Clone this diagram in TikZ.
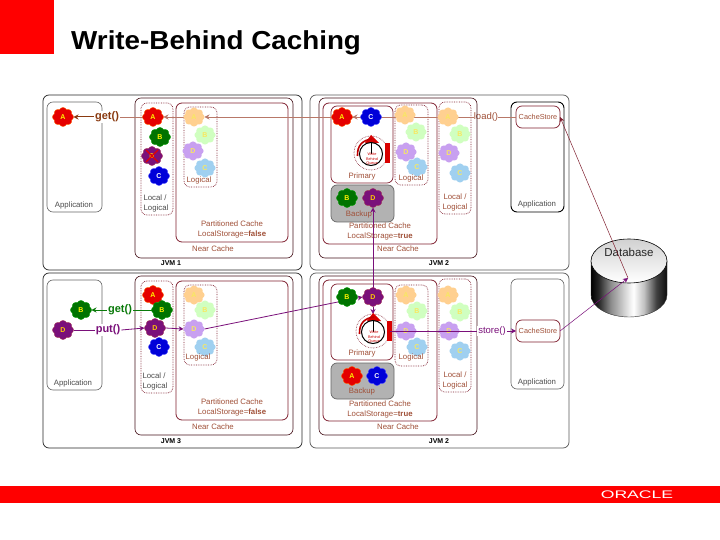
\documentclass[tikz,border=0pt]{standalone}
\usepackage{fontspec}
\usepackage{graphicx}
\setmainfont{Liberation Sans}
\usetikzlibrary{arrows.meta,shapes.symbols,shapes.geometric}
\definecolor{ored}{HTML}{FF0000}
\definecolor{dred}{HTML}{802030}
\definecolor{lbrown}{HTML}{A05038}
\definecolor{loadc}{HTML}{B87868}
\definecolor{getc}{HTML}{8A3A10}
\definecolor{greenc}{HTML}{0A7A0A}
\definecolor{purp}{HTML}{7A107A}
\definecolor{pa}{HTML}{FFD090}
\definecolor{pb}{HTML}{D0FFC0}
\definecolor{pd}{HTML}{C8A0F0}
\definecolor{pc}{HTML}{A0D0F0}
\definecolor{pt}{HTML}{F8E860}
\pgfdeclarehorizontalshading{cylshade}{100bp}{color(0bp)=(black);color(25bp)=(black);
  color(30bp)=(black!85);color(38bp)=(black!45);color(50bp)=(black!8);color(53bp)=(white);color(60bp)=(black!25);color(68bp)=(black!75);color(75bp)=(black!95);color(100bp)=(black)}
\pgfdeclarelayer{bg}
\pgfdeclarelayer{mid}
\pgfsetlayers{bg,mid,main}
\tikzset{
  x=1pt,y=-1pt,
  boxbase/.style={draw,rounded corners=6pt,inner sep=0pt,outer sep=0pt,anchor=north west},
  jvm/.style={boxbase,draw=black!85,line width=.7pt},
  jvmr/.style={boxbase,draw=black!65,line width=.7pt},
  near/.style={boxbase,draw=black!45!dred,line width=.6pt},
  part/.style={boxbase,draw=dred,line width=.8pt},
  prim/.style={boxbase,draw=dred,line width=.7pt},
  backupbox/.style={boxbase,draw=black!60,fill=black!30,line width=.7pt},
  logbox/.style={boxbase,draw=dred,densely dotted,line width=.7pt},
  appg/.style={boxbase,draw=black!60,line width=.6pt},
  appk/.style={boxbase,draw=black,line width=.9pt},
  csbox/.style={boxbase,draw=dred,line width=.7pt},
  lbl/.style={inner sep=0pt,font=\fontsize{7.8}{8}\selectfont,text=black!70},
  blbl/.style={inner sep=0pt,font=\fontsize{7.8}{8}\selectfont,text=lbrown},
  cslbl/.style={inner sep=0pt,font=\fontsize{7.3}{8}\selectfont,text=lbrown},
  jlbl/.style={inner sep=0pt,font=\bfseries\fontsize{7}{8}\selectfont,text=black},
  blob/.style={cloud,cloud puffs=8,cloud puff arc=130,aspect=1.1,inner sep=0pt,outer sep=0pt,
    minimum width=21pt,minimum height=19pt,font=\bfseries\fontsize{7}{7}\selectfont,text=yellow},
  bA/.style={blob,fill=red!90!black,draw=orange!70!red,line width=.4pt},
  bB/.style={blob,fill=green!45!black,draw=green!60!black,line width=.4pt},
  bD/.style={blob,fill=purp,draw=purp!70!orange,line width=.4pt,text=orange!40!yellow},
  bC/.style={blob,fill=blue!85!black,draw=blue!70,line width=.4pt,text=white},
  fA/.style={blob,fill=pa,text=pt},
  fB/.style={blob,fill=pb,text=pt},
  fD/.style={blob,fill=pd,text=pt},
  fC/.style={blob,fill=pc,text=pt},
  tip/.style={-{Stealth[length=5pt,width=5pt]}},
  loadl/.style={draw=loadc,line width=.6pt},
  getl/.style={draw=getc,line width=1pt},
  greenl/.style={draw=greenc,line width=1pt},
  purl/.style={draw=purp,line width=.8pt},
  oplbl/.style={inner sep=1pt,fill=white,font=\bfseries\fontsize{11}{11}\selectfont},
  qtxt/.style={inner sep=0pt,text=red!80!black,font=\fontsize{3.8}{4.4}\selectfont,align=center},
}
\newcommand\bx[6]{\pgfmathsetmacro\bxw{#5-#3}\pgfmathsetmacro\bxh{#6-#4}%
  \node[#1,minimum width=\bxw pt,minimum height=\bxh pt] (#2) at (#3,#4) {};}
\newcommand\wbq[3]{%
  \node[circle,draw=dred,densely dotted,fill=white,line width=.6pt,minimum size=34pt,inner sep=0pt,outer sep=0pt] (#1) at (#2,#3) {};
  \fill[red!85!black] (#2-6,#3-10) -- (#2,#3-18) -- (#2+8,#3-10) -- cycle;
  \fill[red!85!black] (#2+14,#3-10) rectangle (#2+19,#3+10);
  \draw[red!75!black,line width=1.6pt] (#2-13.5,#3+3) .. controls (#2-14,#3-8) and (#2-8,#3-13) .. (#2+1,#3-14);
  \node[circle,draw=black,line width=1pt,fill=white,minimum size=23pt,inner sep=0pt] (#1in) at (#2,#3+1) {};
  \draw[black,line width=.4pt] (#1in.center) -- (#1in.north);
  \node[qtxt] (#1txt) at (#2+1,#3+6) {Write\\Behind\\Queue};
}
\begin{document}
\begin{tikzpicture}
\useasboundingbox (0,0) rectangle (720,540);
\begin{pgfonlayer}{bg}
\fill[white] (0,0) rectangle (720,540);
\fill[ored] (0,0) rectangle (54,54);
\fill[ored] (0,486) rectangle (720,503);
% database
\shade[shading=cylshade,draw=black!80,line width=.4pt]
  (591,261) -- (591,295) .. controls (591,307) and (608,317) .. (629,317)
  .. controls (650,317) and (667,307) .. (667,295) -- (667,261) -- cycle;
\node[ellipse,draw=black,line width=.6pt,top color=black!18,bottom color=white,minimum width=76pt,minimum height=44pt,inner sep=0pt] (db) at (629,261) {};
\coordinate (dbin) at (628,278);
\node[inner sep=0pt,font=\fontsize{9.5}{10}\selectfont,text=lbrown] (load) at (486,117) {load()};
% JVM 1
\bx{jvm}{jvmA}{43}{95}{302}{270}
\bx{appg}{appA}{47}{102}{102}{212}
\bx{near}{nearA}{135}{98}{293}{258}
\bx{logbox}{locA}{141}{103}{173}{215}
\bx{part}{partA}{176}{103}{288}{242}
\bx{logbox}{logA}{184}{107}{217}{187}
% JVM 2 top
\bx{jvmr}{jvmB}{310}{95}{569}{270}
\bx{near}{nearB}{319}{98}{477}{258}
\bx{part}{partB}{323}{103}{437}{244}
\bx{prim}{primB}{331}{106}{393}{183}
\bx{backupbox}{backB}{331}{185}{394}{222}
\bx{logbox}{logB}{395}{105}{428}{185}
\bx{logbox}{locB}{439}{102}{471}{214}
\bx{appk}{appB}{511}{102}{564}{212}
\bx{csbox}{csB}{516}{106}{560}{128}
% JVM 3
\bx{jvm}{jvmC}{43}{273}{302}{448}
\bx{appg}{appC}{47}{280}{102}{390}
\bx{near}{nearC}{135}{276}{293}{435}
\bx{logbox}{locC}{141}{281}{173}{393}
\bx{part}{partC}{176}{281}{288}{420}
\bx{logbox}{logC}{184}{285}{217}{365}
% JVM 2 bottom
\bx{jvmr}{jvmD}{310}{273}{569}{448}
\bx{near}{nearD}{319}{276}{477}{435}
\bx{part}{partD}{323}{280}{437}{421}
\bx{prim}{primD}{331}{284}{393}{360}
\bx{backupbox}{backD}{331}{363}{394}{399}
\bx{logbox}{logD}{395}{285}{428}{366}
\bx{logbox}{locD}{439}{279}{471}{392}
\bx{appg}{appD}{511}{279}{564}{389}
\bx{csbox}{csD}{516}{320}{560}{342}
\end{pgfonlayer}

% title and logo
\node[anchor=base west,inner sep=0pt,font=\bfseries\fontsize{26}{30}\selectfont] (title) at (71,50) {\scalebox{1.069}[1]{Write-Behind Caching}};
\node[inner sep=0pt,text=white,font=\fontsize{11}{11}\selectfont] (oracle) at (637,495) {\scalebox{1.6}[1]{ORACLE}};
\node[inner sep=0pt,font=\fontsize{11.5}{12}\selectfont,text=black!85] (dbtxt) at (629,252) {Database};

% JVM 1 contents
\node[bA] (a1app) at (63,117) {A};
\node[bA] (a1) at (153,117) {A};
\node[bB] (b1) at (160,137) {B};
\node[bD] (d1) at (152,156) {D};
\draw[red!90!black,line width=1.1pt] (146,150) -- (158,162) (158,150) -- (146,162);
\node[bC] (c1) at (159,176) {C};
\node[fA] (a1l) at (194,117) {A};
\node[fB] (b1l) at (205,135) {B};
\node[fD] (d1l) at (193,151) {D};
\node[fC] (c1l) at (205,168) {C};
\node[lbl] (t1) at (74,205) {Application};
\node[lbl] (t2) at (155,198) {Local /};
\node[lbl] (t3) at (156,208) {Logical};
\node[blbl] (t4) at (199,180) {Logical};
\node[blbl] (t5) at (232,224) {Partitioned Cache};
\node[blbl] (t6) at (232,234) {LocalStorage=\textbf{false}};
\node[blbl] (t7) at (213,249) {Near Cache};
\node[jlbl] (t8) at (171,263) {JVM 1};

% JVM 2 top contents
\node[bA] (a2) at (342,117) {A};
\node[bC] (c2) at (371,117) {C};
\wbq{qB}{371}{153}
\node[bB] (b2k) at (347,198) {B};
\node[bD] (d2k) at (373,198) {D};
\node[fA] (a2l) at (405,115) {A};
\node[fB] (b2l) at (416,132) {B};
\node[fD] (d2l) at (406,152) {D};
\node[fC] (c2l) at (417,167) {C};
\node[fA] (a2o) at (448,117) {A};
\node[fB] (b2o) at (460,134) {B};
\node[fD] (d2o) at (449,153) {D};
\node[fC] (c2o) at (460,173) {C};
\node[blbl] (u1) at (362,176) {Primary};
\node[blbl] (u2) at (411,178) {Logical};
\node[blbl] (u3) at (455,197) {Local /};
\node[blbl] (u4) at (455,207) {Logical};
\node[blbl] (u5) at (359,214) {Backup};
\node[blbl] (u6) at (380,226) {Partitioned Cache};
\node[blbl] (u7) at (380,236) {LocalStorage=\textbf{true}};
\node[blbl] (u8) at (398,249) {Near Cache};
\node[jlbl] (u9) at (439,263) {JVM 2};
\node[lbl] (u10) at (537,204) {Application};
\node[cslbl] (u11) at (538,117) {CacheStore};

% JVM 3 contents
\node[bB] (b3app) at (81,310) {B};
\node[bD] (d3app) at (63,330) {D};
\node[bA] (a3) at (153,295) {A};
\node[bB] (b3) at (162,310) {B};
\node[bD] (d3) at (155,328) {D};
\node[bC] (c3) at (159,347) {C};
\node[fA] (a3l) at (194,295) {A};
\node[fB] (b3l) at (205,310) {B};
\node[fD] (d3l) at (194,329) {D};
\node[fC] (c3l) at (205,347) {C};
\node[lbl] (v1) at (73,383) {Application};
\node[lbl] (v2) at (154,376) {Local /};
\node[lbl] (v3) at (155,386) {Logical};
\node[blbl] (v4) at (198,357) {Logical};
\node[blbl] (v5) at (232,402) {Partitioned Cache};
\node[blbl] (v6) at (232,412) {LocalStorage=\textbf{false}};
\node[blbl] (v7) at (213,427) {Near Cache};
\node[jlbl] (v8) at (171,441) {JVM 3};

% JVM 2 bottom contents
\node[bB] (b4) at (347,297) {B};
\node[bD] (d4) at (373,297) {D};
\wbq{qD}{373}{331}
\node[bA] (a4k) at (352,376) {A};
\node[bC] (c4k) at (377,376) {C};
\node[fA] (a4l) at (406,295) {A};
\node[fB] (b4l) at (417,311) {B};
\node[fD] (d4l) at (406,331) {D};
\node[fC] (c4l) at (417,347) {C};
\node[fA] (a4o) at (448,295) {A};
\node[fB] (b4o) at (460,312) {B};
\node[fD] (d4o) at (449,331) {D};
\node[fC] (c4o) at (460,351) {C};
\node[blbl] (w1) at (362,353) {Primary};
\node[blbl] (w2) at (411,357) {Logical};
\node[blbl] (w3) at (455,375) {Local /};
\node[blbl] (w4) at (455,385) {Logical};
\node[blbl] (w5) at (362,391) {Backup};
\node[blbl] (w6) at (380,404) {Partitioned Cache};
\node[blbl] (w7) at (380,414) {LocalStorage=\textbf{true}};
\node[blbl] (w8) at (398,427) {Near Cache};
\node[jlbl] (w9) at (439,441) {JVM 2};
\node[lbl] (w10) at (537,382) {Application};
\node[cslbl] (w11) at (538,331) {CacheStore};

% operation labels
\node[oplbl,text=getc] (get1) at (107,117) {get()};
\node[oplbl,text=greenc] (get3) at (120,310) {get()};
\node[oplbl,text=purp] (put3) at (108,330) {put()};
\node[inner sep=1pt,fill=white,font=\fontsize{9.5}{10}\selectfont,text=purp] (store) at (492,331) {store()};

\begin{pgfonlayer}{mid}
\draw[loadl] (csB.west |- u11) -- (load.east);
\draw[loadl,tip] (load.west) -- (a1l.east);
\draw[loadl,tip] (c2.west) -- (a2.east);
\draw[loadl,tip] (a1l.west) -- (a1.east);
\draw[loadl] (a1.west) -- (get1.east);
\draw[getl,tip] (get1.west) -- (a1app.east);
\draw[greenl] (b3.west) -- (get3.east);
\draw[greenl,tip] (get3.west) -- (b3app.east);
\draw[purl] (d3app.east) -- (put3.west);
\draw[purl,tip] (put3.east) -- (d3.west);
\draw[purl,tip] (d3.east) -- (d3l.west);
\draw[purl,tip] (d3l.east) -- (d4.west);
\draw[purl,tip] (d4.north) -- (d2k.south);
\draw[purl,tip] (d4.south) -- (qD.north);
\end{pgfonlayer}
\draw[purl] (qD.east) -- (store.west);
\draw[purl,tip] (store.east) -- (csD.west);
\draw[draw=purp,line width=.5pt,tip] (csD.east) -- (dbin);
\draw[draw=dred,line width=.5pt,tip] (dbin) -- (csB.east);
\end{tikzpicture}
\end{document}
